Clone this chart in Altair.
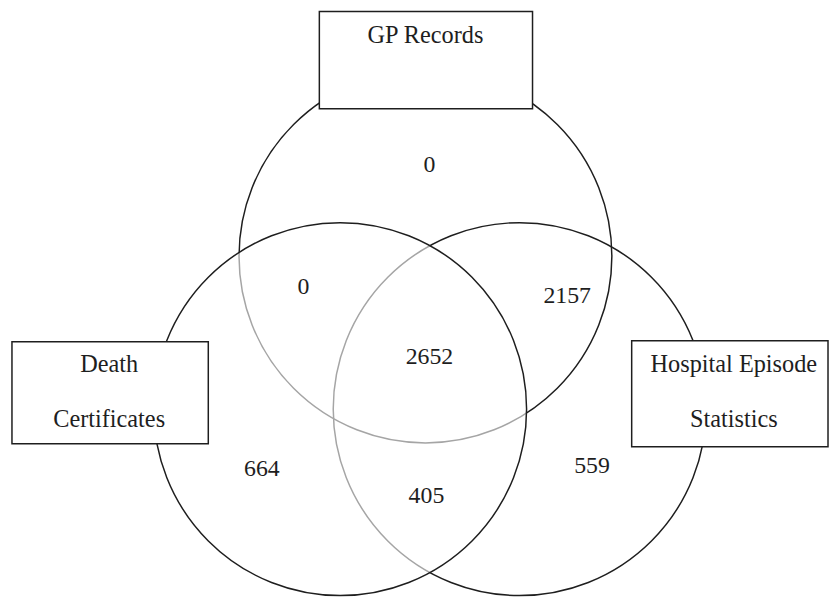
import altair as alt
import pandas as pd

# ---- data ----
set_names = ["GP Records", "Hospital Episode Statistics", "Death Certificates"]
region_names = ["GP only", "GP & DC", "GP & HES", "All three", "DC only", "DC & HES", "HES only"]
region_counts = [0, 0, 2157, 2652, 664, 405, 559]
label_lines = [["GP Records"], ["Hospital Episode", "Statistics"], ["Death", "Certificates"]]

# ---- layout (image pixel coordinates) ----
circle_cx = [429, 524, 343]
circle_cy = [256, 410, 410]
circle_r = [188, 188, 188]
count_x = [433, 306, 572, 433, 264, 430, 597]
count_y = [164, 287, 296, 358, 470, 498, 467]
box_x1 = [322, 637, 12]
box_x2 = [537, 835, 210]
box_y1 = [9, 341, 342]
box_y2 = [107, 448, 445]
label_x = [429, 740, 110]
label_y = [[34], [366, 421], [366, 421]]

W, H = 828, 594
xs = alt.Scale(domain=[8, 8 + W], nice=False, zero=False)
ys = alt.Scale(domain=[8 + H, 8], nice=False, zero=False)

circles = pd.DataFrame({
    "name": set_names,
    "x": circle_cx,
    "y": circle_cy,
    "s": [(2 * r) ** 2 for r in circle_r],
})
boxes = pd.DataFrame({"name": set_names, "x": box_x1, "x2": box_x2, "y": box_y1, "y2": box_y2})
labels = pd.DataFrame([
    {"text": t, "x": label_x[i], "y": label_y[i][j]}
    for i in range(3) for j, t in enumerate(label_lines[i])
])
counts = pd.DataFrame({"region": region_names, "count": region_counts, "x": count_x, "y": count_y})

ink = "#1e1e1e"
serif = "'Liberation Serif', 'Times New Roman', Times, serif"

def circle_layer(df, **kw):
    return alt.Chart(df).mark_point(shape="circle", opacity=1, strokeWidth=1.5, stroke=ink, **kw).encode(
        x=alt.X("x:Q", scale=xs, axis=None),
        y=alt.Y("y:Q", scale=ys, axis=None),
        size=alt.Size("s:Q", scale=None),
    )

back = circle_layer(circles.iloc[:2], filled=False)
front = circle_layer(circles.iloc[2:], filled=True, fill="white", fillOpacity=0.6)

box_layer = alt.Chart(boxes).mark_rect(fill="white", stroke=ink, strokeWidth=1.5).encode(
    x=alt.X("x:Q", scale=xs, axis=None), x2="x2:Q",
    y=alt.Y("y:Q", scale=ys, axis=None), y2="y2:Q",
)

label_layer = alt.Chart(labels).mark_text(
    font=serif, fontSize=24.5, color=ink, align="center", baseline="middle"
).encode(
    x=alt.X("x:Q", scale=xs, axis=None),
    y=alt.Y("y:Q", scale=ys, axis=None),
    text="text:N",
)

count_layer = alt.Chart(counts).mark_text(
    font=serif, fontSize=24, color=ink, align="center", baseline="middle"
).encode(
    x=alt.X("x:Q", scale=xs, axis=None),
    y=alt.Y("y:Q", scale=ys, axis=None),
    text="count:Q",
)

chart = alt.layer(back, front, box_layer, label_layer, count_layer).properties(
    width=W, height=H, padding=0, autosize=alt.AutoSizeParams(type="none")
).configure_view(stroke=None)

chart.save("out.html", embed_options={"renderer": "svg", "actions": False})
